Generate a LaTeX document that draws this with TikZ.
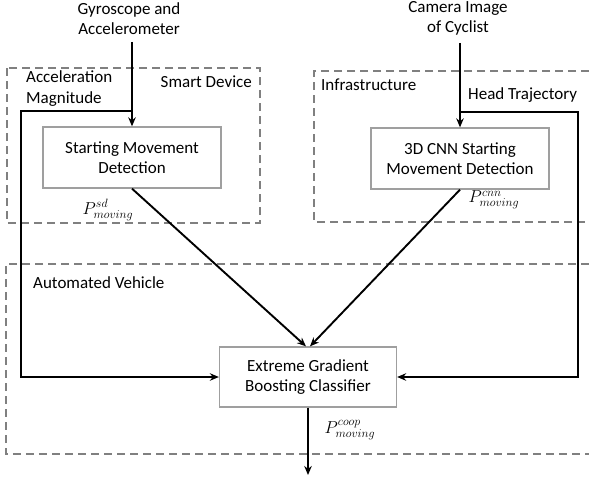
\documentclass[tikz,border=0pt]{standalone}
\usepackage{fontspec}
\setmainfont{Carlito}
\usetikzlibrary{arrows.meta}

\tikzset{
  zone/.style={draw=gray, dash pattern=on 8pt off 5pt, line width=1.4pt},
  proc/.style={draw=gray!75, line width=1.3pt, minimum width=178pt, minimum height=61pt,
    align=center, font=\fontsize{17}{20.5}\selectfont},
  lbl/.style={font=\fontsize{17}{20.5}\selectfont, inner sep=0pt},
  flow/.style={line width=1.9pt, -{Stealth[length=9pt,width=7.5pt]}}
}

\begin{document}
\begin{tikzpicture}[x=1pt,y=-1pt]
                \useasboundingbox (0,0) rectangle (589,480);

                \draw[zone] (7,68) rectangle (260,223);
                \draw[zone] (589,71) -- (314,71) -- (314,222) -- (589,222);
                \draw[zone] (589,264) -- (6,264) -- (6,454) -- (589,454);

                \node[lbl, align=center] (gyro) at (129,18.5) {Gyroscope and\\Accelerometer};
                \node[lbl, align=center] (cam) at (458,18.5) {Camera Image\\of Cyclist};

                \node[proc] (smd) at (132,157.5) {Starting Movement\\Detection};
                \node[proc] (cnn) at (460,158.5) {3D CNN Starting\\Movement Detection};
                \node[proc, minimum width=177pt, minimum height=60pt] (xgb) at (308,377) {Extreme Gradient\\Boosting Classifier};

                \node[lbl, align=left, anchor=west] (accmag) at (26,88.5) {Acceleration\\Magnitude};
                \node[lbl, anchor=east] (sdzone) at (252,82) {Smart Device};
                \node[lbl, anchor=west] (infzone) at (321,85) {Infrastructure};
                \node[lbl, anchor=west] (head) at (468,95) {Head Trajectory};
                \node[lbl, anchor=west] (avzone) at (33,283) {Automated Vehicle};

                \node[lbl] (psd) at (108,210) {$P^{sd}_{moving}$};
                \node[lbl] (pcnn) at (494,200) {$P^{cnn}_{moving}$};
                \node[lbl] (pcoop) at (350,430) {$P^{coop}_{moving}$};

                \coordinate (accsplit) at (132,111);
                \coordinate (acccorner) at (21,111);
                \coordinate (headsplit) at (460,112);
                \coordinate (headcorner) at (578,112);
                \coordinate (out) at (308,475);

                \draw[flow] ([yshift=-7pt]gyro.south -| smd.north) -- (smd.north);
                \draw[flow] ([yshift=-7pt]cam.south -| cnn.north) -- (cnn.north);
                \draw[flow] (accsplit) -- (acccorner) |- (xgb.west);
                \draw[flow] (headsplit) -- (headcorner) |- (xgb.east);
                \draw[flow] (smd.south) -- ([xshift=-2pt]xgb.north);
                \draw[flow] (cnn.south) -- ([xshift=2pt]xgb.north);
                \draw[flow] (xgb.south) -- (out);
\end{tikzpicture}
\end{document}
